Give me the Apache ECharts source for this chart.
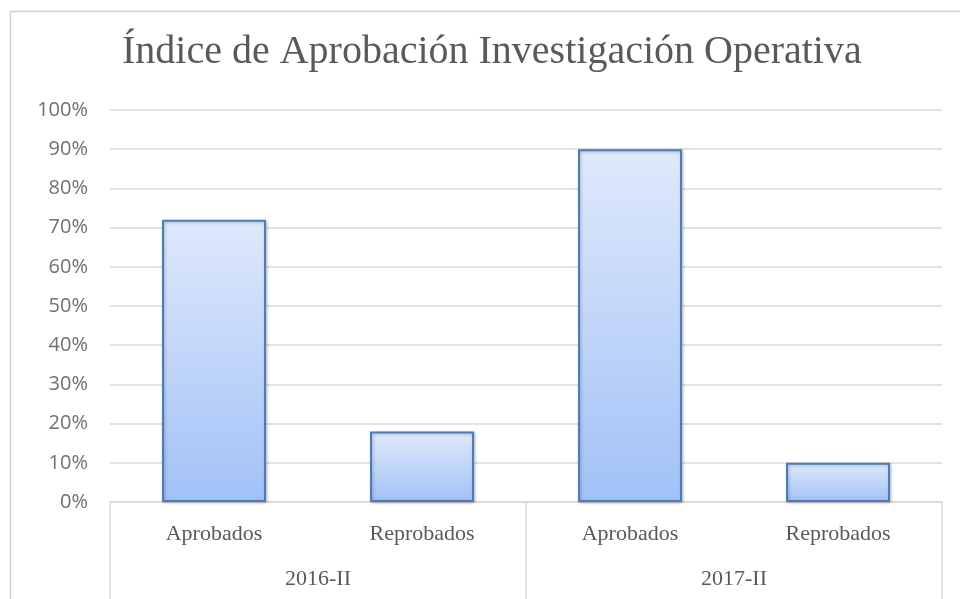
<!DOCTYPE html>
<html>
<head>
<meta charset="utf-8">
<script src="https://cdn.jsdelivr.net/npm/echarts@6/dist/echarts.min.js"></script>
<style>
html, body { margin: 0; padding: 0; background: #fff; }
#chart { width: 960px; height: 599px; }
</style>
</head>
<body>
<div id="chart"></div>
<script>
var categories = ['Aprobados', 'Reprobados', 'Aprobados', 'Reprobados'];
var groups = ['2016-II', '2017-II'];
var values = [0.72, 0.18, 0.90, 0.10];
var yTicks = [0, 0.1, 0.2, 0.3, 0.4, 0.5, 0.6, 0.7, 0.8, 0.9, 1];

var myChart = echarts.init(document.getElementById('chart'));

var serif = '"Liberation Serif", "DejaVu Serif", serif';

var option = {
    animation: false,
    graphic: [{
        type: 'rect',
        shape: { x: 10.5, y: 11.5, width: 1000, height: 1000 },
        style: { fill: 'none', stroke: '#d0d0d0', lineWidth: 1.5 },
        silent: true
    }],
    title: {
        text: 'Índice de Aprobación Investigación Operativa',
        left: 117,
        top: 27,
        textStyle: {
            fontFamily: serif,
            fontWeight: 'normal',
            fontSize: 40,
            color: '#595959'
        }
    },
    grid: { left: 110, right: 18, top: 110, bottom: 97 },
    xAxis: [{
        type: 'category',
        data: categories,
        axisLine: { lineStyle: { color: '#d9d9d9', width: 1.5 } },
        axisTick: { show: false },
        axisLabel: {
            margin: 21,
            fontFamily: serif,
            fontSize: 22,
            color: '#595959'
        }
    }, {
        type: 'category',
        data: groups,
        position: 'bottom',
        axisLine: { show: false },
        axisTick: { show: true, length: 100, lineStyle: { color: '#d9d9d9', width: 1.5 } },
        axisLabel: {
            margin: 66,
            fontFamily: serif,
            fontSize: 22,
            color: '#595959'
        }
    }],
    yAxis: {
        type: 'value',
        min: 0,
        max: 1,
        interval: 0.1,
        axisLine: { show: false },
        axisTick: { show: false },
        splitLine: { lineStyle: { color: '#d9d9d9', width: 1.5 } },
        axisLabel: {
            margin: 22,
            fontFamily: '"Open Sans", "Liberation Sans", sans-serif',
            fontSize: 20,
            color: '#707070',
            formatter: function (v) { return Math.round(v * 100) + '%'; }
        }
    },
    series: [{
        type: 'bar',
        xAxisIndex: 0,
        data: values,
        barWidth: '50%',
        itemStyle: {
            color: new echarts.graphic.LinearGradient(0, 0, 0, 1, [
                { offset: 0, color: '#dfe9fb' },
                { offset: 1, color: '#a2c1f7' }
            ]),
            borderColor: '#4a7ebb',
            borderWidth: 2,
            shadowColor: 'rgba(0,0,0,0.25)',
            shadowBlur: 3,
            shadowOffsetX: 1,
            shadowOffsetY: 1
        }
    }]
};

myChart.setOption(option);
</script>
</body>
</html>
